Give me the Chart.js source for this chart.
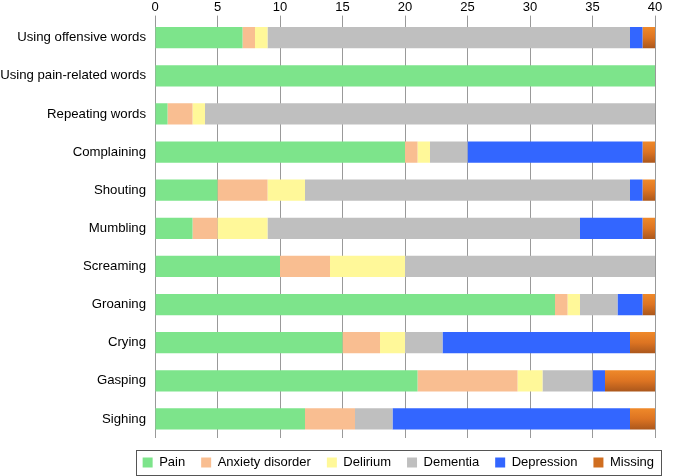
<!DOCTYPE html>
<html>
<head>
<meta charset="utf-8">
<script src="https://cdn.jsdelivr.net/npm/chart.js@4"></script>
<style>
  html, body { margin: 0; padding: 0; background: #fff; }
  #wrap { width: 673px; height: 476px; }
</style>
</head>
<body>
<div id="wrap"><canvas id="c" width="673" height="476"></canvas></div>
<script>
  const categories = ['Using offensive words', 'Using pain-related words', 'Repeating words', 'Complaining',
    'Shouting', 'Mumbling', 'Screaming', 'Groaning', 'Crying', 'Gasping', 'Sighing'];
  const pain       = [7, 40, 1, 20, 5, 3, 10, 32, 15, 21, 12];
  const anxiety    = [1, 0, 2, 1, 4, 2, 4, 1, 3, 8, 4];
  const delirium   = [1, 0, 1, 1, 3, 4, 6, 1, 2, 2, 0];
  const dementia   = [29, 0, 36, 3, 26, 25, 20, 3, 3, 4, 3];
  const depression = [1, 0, 0, 14, 1, 5, 0, 2, 15, 1, 19];
  const missing    = [1, 0, 0, 1, 1, 1, 0, 1, 2, 4, 2];
  const xTicks     = [0, 5, 10, 15, 20, 25, 30, 35, 40];

  const FONT = 'Liberation Sans, Arial, sans-serif';

  // orange -> brown gradient per bar, like the original
  function missingFill(ctx) {
    const chart = ctx.chart;
    const y = chart.scales && chart.scales.y;
    if (!y || ctx.dataIndex == null) return '#D06E20';
    const c = y.getPixelForValue(ctx.dataIndex);
    const g = chart.ctx.createLinearGradient(0, c - 11, 0, c + 11);
    g.addColorStop(0, '#F08A2A');
    g.addColorStop(0.5, '#DD7422');
    g.addColorStop(1, '#A9561C');
    return g;
  }

  // legend sits further right (and a bit lower) than the plot, with a box round it
  const legendBox = {
    id: 'legendBox',
    afterLayout(chart) {
      const lg = chart.legend;
      if (!lg) return;
      lg.left += 15;
      lg.right += 15;
      lg.top += 2;
      lg.bottom += 2;
    },
    afterDraw(chart) {
      const lg = chart.legend;
      if (!lg || !lg.legendHitBoxes.length) return;
      const hb = lg.legendHitBoxes;
      const last = hb[hb.length - 1];
      const x0 = hb[0].left - 7, x1 = last.left + last.width + 7;
      const yc = hb[0].top + hb[0].height / 2;
      const ctx = chart.ctx;
      ctx.save();
      ctx.strokeStyle = '#555';
      ctx.lineWidth = 1;
      ctx.strokeRect(Math.round(x0) + 0.5, Math.round(yc - 13) + 0.5, Math.round(x1 - x0), 25);
      ctx.restore();
    }
  };

  const mk = (label, data, color) => ({ label, data, backgroundColor: color, borderWidth: 0,
    barPercentage: 0.82, categoryPercentage: 0.68 });

  new Chart(document.getElementById('c'), {
    type: 'bar',
    data: {
      labels: categories,
      datasets: [
        mk('Pain', pain, '#7DE48B'),
        mk('Anxiety disorder', anxiety, '#F9BE91'),
        mk('Delirium', delirium, '#FFF899'),
        mk('Dementia', dementia, '#BFBFBF'),
        mk('Depression', depression, '#3366FF'),
        mk('Missing', missing, missingFill)
      ]
    },
    options: {
      indexAxis: 'y',
      responsive: false,
      animation: false,
      layout: { padding: { left: 0, right: 18, top: 0, bottom: 0 } },
      plugins: {
        tooltip: { enabled: false },
        legend: {
          position: 'bottom',
          align: 'end',
          maxHeight: 38,
          labels: {
            font: { family: FONT, size: 13 },
            color: '#000',
            boxWidth: 10,
            boxHeight: 10,
            padding: 16,
            generateLabels(chart) {
              return chart.data.datasets.map((d, i) => ({
                text: d.label,
                fillStyle: i === 5 ? '#D06E20' : d.backgroundColor,
                strokeStyle: 'rgba(0,0,0,0)',
                lineWidth: 0,
                datasetIndex: i
              }));
            }
          }
        }
      },
      scales: {
        x: {
          position: 'top',
          stacked: true,
          min: 0, max: 40,
          afterBuildTicks(axis) { axis.ticks = xTicks.map(v => ({ value: v })); },
          ticks: { font: { family: FONT, size: 13 }, color: '#000', padding: 0 },
          grid: { color: '#999', lineWidth: 1, tickLength: 3 },
          border: { display: false }
        },
        y: {
          stacked: true,
          afterFit(axis) { axis.width = 155; },
          ticks: { font: { family: FONT, size: 13.2 }, color: '#000', padding: 9 },
          grid: { display: false, drawTicks: false },
          border: { display: false }
        }
      }
    },
    plugins: [legendBox]
  });
</script>
</body>
</html>
